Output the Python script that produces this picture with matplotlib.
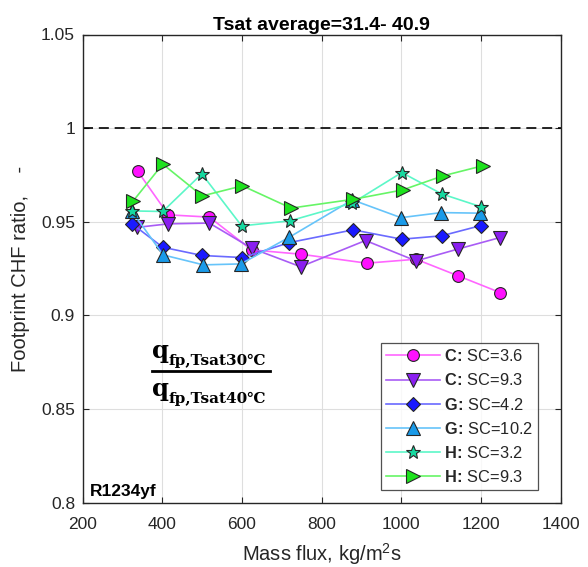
import matplotlib
matplotlib.use("Agg")
import matplotlib.pyplot as plt
from matplotlib.lines import Line2D

# ---------------- data ----------------
x_c36 = [338, 415, 518, 624, 747, 913, 1037, 1143, 1248]
y_c36 = [0.977, 0.9537, 0.9525, 0.935, 0.9327, 0.9279, 0.930, 0.9211, 0.9122]

x_c93 = [336, 415, 518, 624, 747, 910, 1037, 1143, 1248]
y_c93 = [0.947, 0.9489, 0.9493, 0.9359, 0.926, 0.940, 0.9291, 0.9355, 0.9416]

x_g42 = [325, 401, 500, 601, 719, 879, 1001, 1101, 1200]
y_g42 = [0.9487, 0.9364, 0.932, 0.9309, 0.9389, 0.9457, 0.9407, 0.9425, 0.948]

x_g102 = [323, 402, 503, 597, 719, 877, 999, 1100, 1198]
y_g102 = [0.9558, 0.9323, 0.927, 0.9275, 0.9418, 0.9617, 0.9522, 0.9549, 0.9546]

x_h32 = [323, 401, 499, 599, 720, 877, 1001, 1101, 1200]
y_h32 = [0.9558, 0.9555, 0.9756, 0.9478, 0.9505, 0.960, 0.9763, 0.9649, 0.958]

x_h93 = [327, 401, 500, 601, 723, 879, 1003, 1104, 1204]
y_h93 = [0.9612, 0.9808, 0.9638, 0.9692, 0.9573, 0.962, 0.967, 0.9745, 0.9799]

labels = [r"$\mathbf{C\!:\!}$ SC=3.6", r"$\mathbf{C\!:\!}$ SC=9.3", r"$\mathbf{G\!:\!}$ SC=4.2",
          r"$\mathbf{G\!:\!}$ SC=10.2", r"$\mathbf{H\!:\!}$ SC=3.2", r"$\mathbf{H\!:\!}$ SC=9.3"]

x_ticks = [200, 400, 600, 800, 1000, 1200, 1400]
y_ticks = [0.8, 0.85, 0.9, 0.95, 1.0, 1.05]
y_tick_labels = ["0.8", "0.85", "0.9", "0.95", "1", "1.05"]

# ---------------- style ----------------
plt.rcParams["font.family"] = ["Liberation Sans", "DejaVu Sans"]
plt.rcParams["mathtext.fontset"] = "custom"
plt.rcParams["mathtext.rm"] = "Liberation Sans"
plt.rcParams["mathtext.it"] = "Liberation Sans"
plt.rcParams["mathtext.bf"] = "Liberation Sans:bold"

W, H = 588, 567
fig = plt.figure(figsize=(W / 100, H / 100), dpi=100)
L, R, T, B = 82.7, 560.7, 34.5, 502.7
ax = fig.add_axes([L / W, 1 - B / H, (R - L) / W, (B - T) / H])

dark = "#262626"
series = [
    (x_c36, y_c36, "o", "#ff10ff", "#ff66ff", 8.5),
    (x_c93, y_c93, "v", "#8a1ef0", "#a95cf5", 9.5),
    (x_g42, y_g42, "D", "#1a1aff", "#6a6aff", 7.0),
    (x_g102, y_g102, "^", "#1a9ae8", "#66c4fa", 9.5),
    (x_h32, y_h32, "*", "#16d9a0", "#5cf7c8", 10.5),
    (x_h93, y_h93, ">", "#1ee21e", "#66f566", 9.5),
]
for (xs, ys, m, fc, lc, ms), lab in zip(series, labels):
    ax.plot(xs, ys, color=lc, lw=1.2, marker=m, ms=ms, mfc=fc, mec=dark,
            mew=0.8, label=lab, zorder=3)

ax.axhline(1.0, color="black", lw=1.2, dashes=(6, 3.5), zorder=2)

ax.set_xlim(200, 1400)
ax.set_ylim(0.8, 1.05)
ax.set_xticks(x_ticks)
ax.set_yticks(y_ticks)
ax.set_yticklabels(y_tick_labels)
ax.grid(True, color="#dedede", lw=0.8)
ax.set_axisbelow(True)
ax.tick_params(direction="in", length=4, width=0.8, colors=dark, labelsize=12.5,
               top=True, right=True)
ax.tick_params(axis="x", pad=10)
ax.tick_params(axis="y", pad=5.5)
for sp in ax.spines.values():
    sp.set_color(dark)
    sp.set_linewidth(1.0)

ax.set_title("Tsat average=31.4- 40.9", fontsize=14, fontweight="bold",
             color="black", pad=3)
ax.set_xlabel(r"Mass flux, kg/m$^2$s", fontsize=14.5, color=dark, labelpad=6.5)
ax.set_ylabel("Footprint CHF ratio,    -", fontsize=14.5, color=dark, labelpad=8)

leg = ax.legend(loc="lower left", bbox_to_anchor=((380.7 - L) / (R - L), (B - 490) / (B - T)),
                fontsize=11.8, handlelength=3.3, labelspacing=0.5,
                borderpad=0.3, handletextpad=0.25, frameon=True, fancybox=False,
                borderaxespad=0)
leg.get_frame().set_edgecolor(dark)
leg.get_frame().set_linewidth(0.9)
for t in leg.get_texts():
    t.set_color(dark)

ax.text((89.5 - L) / (R - L), (B - 496) / (B - T), "R1234yf", transform=ax.transAxes,
        fontsize=12.5, fontweight="bold", color="black", ha="left", va="baseline")

# fraction annotation
def fx(px):
    return px / W

def fy(py):
    return 1 - py / H

serif = ["DejaVu Serif", "DejaVu Sans"]
for base_y, sub_y, txt in [(358, 365, "fp,Tsat30\u2103"), (396, 403, "fp,Tsat40\u2103")]:
    fig.text(fx(152), fy(base_y), "q", fontsize=17.5, fontweight="bold", family=serif,
             ha="left", va="baseline")
    fig.text(fx(168.5), fy(sub_y), txt, fontsize=11, fontweight="bold", family=serif,
             ha="left", va="baseline")
fig.add_artist(Line2D([fx(151.7), fx(270)], [fy(371), fy(371)], color="black", lw=2.0,
                      transform=fig.transFigure))

fig.savefig("out.png", dpi=100)
